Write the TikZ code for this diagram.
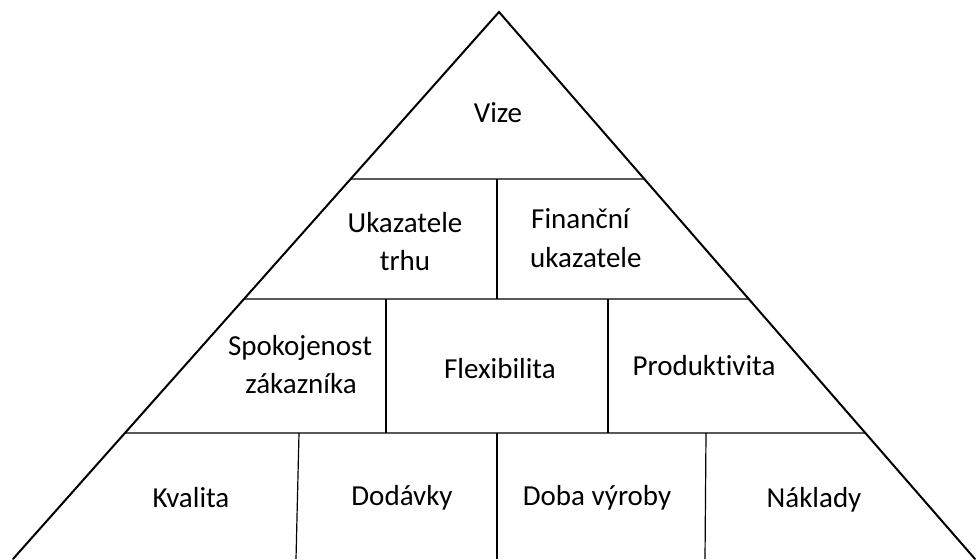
\documentclass[tikz,border=0pt]{standalone}
\usepackage{fontspec}
\setmainfont[RawFeature={-liga}]{Carlito}
\begin{document}
\begin{tikzpicture}[x=1pt,y=-1pt,
  edge/.style={line width=2pt,line cap=round},
  inner/.style={line width=1.2pt},
  lbl/.style={font=\fontsize{29}{35}\selectfont,inner sep=0pt,anchor=base}]
\useasboundingbox (0,0) rectangle (976,559);
\coordinate (A) at (499,12);
\coordinate (L) at (13,559);
\coordinate (R) at (975,559);
% level lines
\foreach \n/\y in {1/179,2/299,3/433}{
  \coordinate (l\n) at (intersection of A--L and 0,\y--1,\y);
  \coordinate (r\n) at (intersection of A--R and 0,\y--1,\y);
}
\draw[inner] (l1) -- (r1);
\draw[inner] (l2) -- (r2);
\draw[inner] (l3) -- (r3);
% dividers
\coordinate (d1t) at (497,179); \coordinate (d1b) at (497,299);
\coordinate (d2t) at (386,299); \coordinate (d2b) at (386,433);
\coordinate (d3t) at (608,299); \coordinate (d3b) at (608,433);
\coordinate (d4t) at (299,433); \coordinate (d4b) at (296,559);
\coordinate (d5t) at (497,433); \coordinate (d5b) at (497,559);
\coordinate (d6t) at (706,433); \coordinate (d6b) at (705,559);
\foreach \i in {1,...,6}{\draw[inner] (d\i t) -- (d\i b);}
% triangle legs
\draw[edge] (L) -- (A) -- (R);
% texts
\node[lbl] (vize) at (498,123) {Vize};
\node[lbl] (uk1) at (405,232) {Ukazatele};
\node[lbl] (uk2) at (405,270) {trhu};
\node[lbl,anchor=base west] (fin1) at (531,228) {Finanční};
\node[lbl,anchor=base west] (fin2) at (530,267) {ukazatele};
\node[lbl] (spk1) at (300,355) {Spokojenost};
\node[lbl] (spk2) at (301,393) {zákazníka};
\node[lbl] (flex) at (500,378) {Flexibilita};
\node[lbl] (prod) at (704,375) {Produktivita};
\node[lbl] (kval) at (191,507) {Kvalita};
\node[lbl] (dod) at (402,505) {Dodávky};
\node[lbl] (doba) at (597,505) {Doba výroby};
\node[lbl] (nakl) at (814,507) {Náklady};
\end{tikzpicture}
\end{document}
